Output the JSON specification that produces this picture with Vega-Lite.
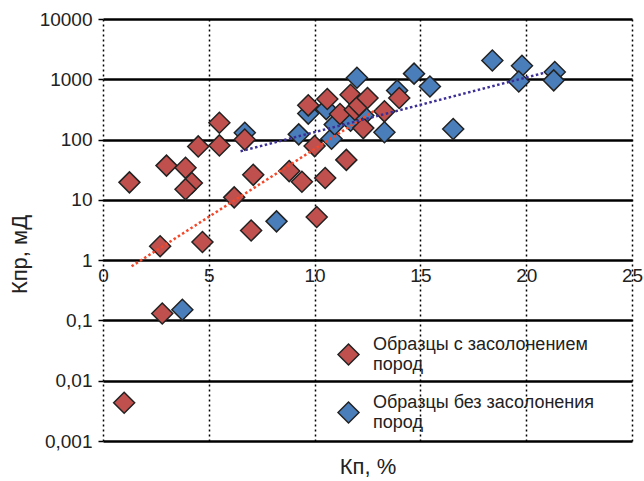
{
  "$schema": "https://vega.github.io/schema/vega-lite/v6.json",
  "autosize": "none",
  "width": 529,
  "height": 422,
  "padding": {"left": 103, "top": 19, "right": 12, "bottom": 40},
  "background": "white",
  "datasets": {
    "pts": [
      {"kp": 3.75, "kpr": 0.15, "g": "Образцы без засолонения пород"},
      {"kp": 6.7, "kpr": 130, "g": "Образцы без засолонения пород"},
      {"kp": 8.2, "kpr": 4.4, "g": "Образцы без засолонения пород"},
      {"kp": 9.25, "kpr": 122, "g": "Образцы без засолонения пород"},
      {"kp": 9.7, "kpr": 270, "g": "Образцы без засолонения пород"},
      {"kp": 10.55, "kpr": 320, "g": "Образцы без засолонения пород"},
      {"kp": 10.8, "kpr": 103, "g": "Образцы без засолонения пород"},
      {"kp": 10.95, "kpr": 177, "g": "Образцы без засолонения пород"},
      {"kp": 11.7, "kpr": 205, "g": "Образцы без засолонения пород"},
      {"kp": 12.3, "kpr": 250, "g": "Образцы без засолонения пород"},
      {"kp": 12.0, "kpr": 1060, "g": "Образцы без засолонения пород"},
      {"kp": 13.3, "kpr": 132, "g": "Образцы без засолонения пород"},
      {"kp": 13.9, "kpr": 650, "g": "Образцы без засолонения пород"},
      {"kp": 14.7, "kpr": 1240, "g": "Образцы без засолонения пород"},
      {"kp": 15.45, "kpr": 760, "g": "Образцы без засолонения пород"},
      {"kp": 16.55, "kpr": 150, "g": "Образцы без засолонения пород"},
      {"kp": 18.4, "kpr": 2050, "g": "Образцы без засолонения пород"},
      {"kp": 19.8, "kpr": 1680, "g": "Образцы без засолонения пород"},
      {"kp": 19.65, "kpr": 920, "g": "Образцы без засолонения пород"},
      {"kp": 21.35, "kpr": 1320, "g": "Образцы без засолонения пород"},
      {"kp": 21.3, "kpr": 960, "g": "Образцы без засолонения пород"},
      {"kp": 1.0, "kpr": 0.0043, "g": "Образцы с засолонением пород"},
      {"kp": 2.8, "kpr": 0.13, "g": "Образцы с засолонением пород"},
      {"kp": 1.25, "kpr": 19.5, "g": "Образцы с засолонением пород"},
      {"kp": 2.7, "kpr": 1.7, "g": "Образцы с засолонением пород"},
      {"kp": 3.0, "kpr": 37, "g": "Образцы с засолонением пород"},
      {"kp": 3.9, "kpr": 34, "g": "Образцы с засолонением пород"},
      {"kp": 4.2, "kpr": 19, "g": "Образцы с засолонением пород"},
      {"kp": 3.9, "kpr": 15, "g": "Образцы с засолонением пород"},
      {"kp": 4.5, "kpr": 77, "g": "Образцы с засолонением пород"},
      {"kp": 4.7, "kpr": 2.0, "g": "Образцы с засолонением пород"},
      {"kp": 5.5, "kpr": 190, "g": "Образцы с засолонением пород"},
      {"kp": 5.5, "kpr": 80, "g": "Образцы с засолонением пород"},
      {"kp": 6.2, "kpr": 11, "g": "Образцы с засолонением пород"},
      {"kp": 6.7, "kpr": 100, "g": "Образцы с засолонением пород"},
      {"kp": 7.0, "kpr": 3.1, "g": "Образцы с засолонением пород"},
      {"kp": 7.1, "kpr": 26, "g": "Образцы с засолонением пород"},
      {"kp": 8.8, "kpr": 30, "g": "Образцы с засолонением пород"},
      {"kp": 9.4, "kpr": 20, "g": "Образцы с засолонением пород"},
      {"kp": 9.7, "kpr": 370, "g": "Образцы с засолонением пород"},
      {"kp": 10.0, "kpr": 78, "g": "Образцы с засолонением пород"},
      {"kp": 10.1, "kpr": 5.2, "g": "Образцы с засолонением пород"},
      {"kp": 10.5, "kpr": 23, "g": "Образцы с засолонением пород"},
      {"kp": 10.6, "kpr": 470, "g": "Образцы с засолонением пород"},
      {"kp": 11.2, "kpr": 265, "g": "Образцы с засолонением пород"},
      {"kp": 11.5, "kpr": 46, "g": "Образцы с засолонением пород"},
      {"kp": 11.7, "kpr": 555, "g": "Образцы с засолонением пород"},
      {"kp": 11.9, "kpr": 313, "g": "Образцы с засолонением пород"},
      {"kp": 12.1, "kpr": 370, "g": "Образцы с засолонением пород"},
      {"kp": 12.3, "kpr": 155, "g": "Образцы с засолонением пород"},
      {"kp": 12.5, "kpr": 490, "g": "Образцы с засолонением пород"},
      {"kp": 13.3, "kpr": 294, "g": "Образцы с засолонением пород"},
      {"kp": 14.0, "kpr": 490, "g": "Образцы с засолонением пород"}
    ],
    "trendRed": [
      {"kp": 1.35, "kpr": 0.79},
      {"kp": 12.9, "kpr": 313}
    ],
    "trendBlue": [
      {"kp": 6.5, "kpr": 64},
      {"kp": 20.93, "kpr": 1300}
    ]
  },
  "config": {
    "view": {"stroke": null},
    "font": "Liberation Sans"
  },
  "layer": [
    {
      "mark": {"type": "rect", "fill": "white", "stroke": "#444", "strokeWidth": 1.5},
      "encoding": {
        "x": {"datum": 10, "type": "quantitative", "scale": {"domain": [0, 25], "nice": false, "zero": false}},
        "x2": {"datum": 25},
        "y": {"datum": 0.001, "type": "quantitative", "scale": {"type": "log", "domain": [0.001, 10000], "nice": false}},
        "y2": {"datum": 0.1}
      }
    },
    {
      "data": {"name": "pts"},
      "mark": {"type": "point", "shape": "diamond", "filled": true, "size": 441, "stroke": "#222", "strokeWidth": 1.5, "opacity": 1},
      "encoding": {
        "x": {
          "field": "kp", "type": "quantitative",
          "scale": {"domain": [0, 25], "nice": false, "zero": false},
          "axis": {
            "values": [0, 5, 10, 15, 20, 25],
            "offset": -181,
            "domain": false,
            "ticks": false,
            "tickSize": 0,
            "labelPadding": 6,
            "labelFlush": false,
            "labelOverlap": false,
            "labelFontSize": 19,
            "labelColor": "#222",
            "grid": true,
            "gridColor": "#000",
            "gridWidth": 1.5,
            "gridDash": [2, 3],
            "title": "Кп, %",
            "titleFontSize": 22,
            "titleFontWeight": "normal",
            "titleColor": "#222",
            "titleBaseline": "middle",
            "titleY": 206
          }
        },
        "y": {
          "field": "kpr", "type": "quantitative",
          "scale": {"type": "log", "domain": [0.001, 10000], "nice": false},
          "axis": {
            "values": [0.001, 0.01, 0.1, 1, 10, 100, 1000, 10000],
            "labelExpr": "replace(toString(datum.value), '.', ',')",
            "domain": false,
            "ticks": true,
            "tickSize": 5,
            "tickColor": "#000",
            "tickWidth": 1.5,
            "labelPadding": 6,
            "labelFontSize": 19,
            "labelColor": "#222",
            "labelOverlap": false,
            "grid": true,
            "gridColor": "#000",
            "gridWidth": 2.5,
            "title": "Кпр, мД",
            "titleFontSize": 22,
            "titleFontWeight": "normal",
            "titleColor": "#222",
            "titleAngle": -90,
            "titleAlign": "center",
            "titleBaseline": "middle",
            "titleX": -84,
            "titleY": 235
          }
        },
        "color": {
          "field": "g", "type": "nominal",
          "scale": {"domain": ["Образцы с засолонением пород", "Образцы без засолонения пород"], "range": ["#c0504d", "#4a7ebb"]},
          "legend": {
            "orient": "none",
            "legendX": 234,
            "legendY": 324,
            "title": null,
            "symbolType": "diamond",
            "symbolSize": 441,
            "symbolStrokeColor": "#222",
            "symbolStrokeWidth": 1.5,
            "labelFontSize": 18,
            "labelColor": "#222",
            "labelOffset": 13,
            "labelLimit": 400,
            "labelBaseline": "line-bottom",
            "rowPadding": 19,
            "labelExpr": "datum.label == 'Образцы с засолонением пород' ? ['Образцы с засолонением', 'пород'] : ['Образцы без засолонения', 'пород']",
            "encode": {"labels": {"update": {"lineHeight": {"value": 22}}}}
          }
        }
      }
    },
    {
      "data": {"name": "trendRed"},
      "mark": {"type": "line", "color": "#f4482a", "strokeWidth": 2.5, "strokeDash": [2.5, 2.5]},
      "encoding": {
        "x": {"field": "kp", "type": "quantitative"},
        "y": {"field": "kpr", "type": "quantitative"}
      }
    },
    {
      "data": {"name": "trendBlue"},
      "mark": {"type": "line", "color": "#3b2f96", "strokeWidth": 2.5, "strokeDash": [2.5, 2.5]},
      "encoding": {
        "x": {"field": "kp", "type": "quantitative"},
        "y": {"field": "kpr", "type": "quantitative"}
      }
    }
  ]
}
